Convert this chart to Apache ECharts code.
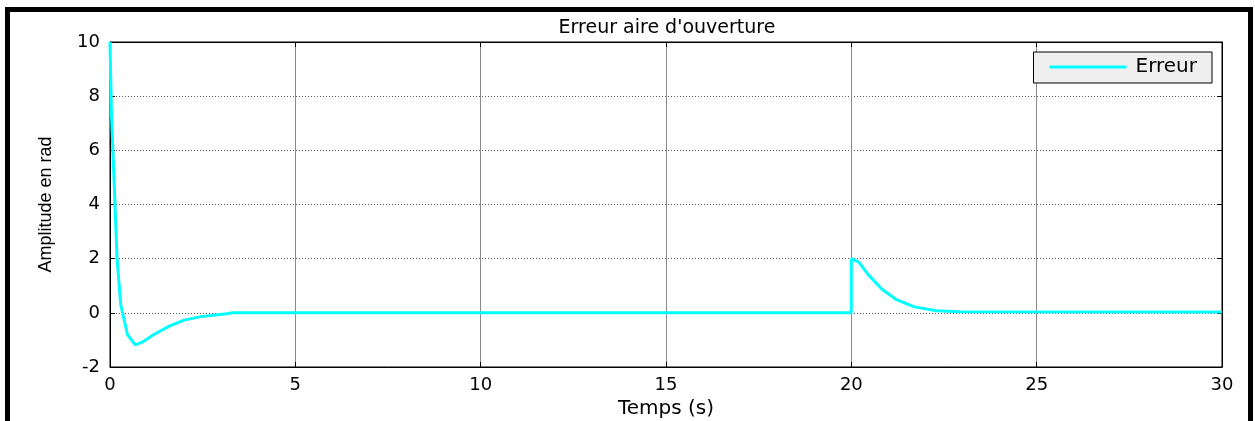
<!DOCTYPE html>
<html>
<head>
<meta charset="utf-8">
<script src="https://cdn.jsdelivr.net/npm/echarts@6/dist/echarts.min.js"></script>
<style>
html,body{margin:0;padding:0;background:#fff;}
#chart{width:1255px;height:421px;}
</style>
</head>
<body>
<div id="chart"></div>
<script>
// Data
const chartTitle = "Erreur aire d'ouverture";
const seriesName = "Erreur";
const xName = "Temps (s)";
const yName = "Amplitude en rad";
const timeS = [0, 0.04, 0.135, 0.19, 0.29, 0.47, 0.68, 0.9, 1.17, 1.6, 2.0, 2.45, 3.15, 3.3, 20, 20, 20.2, 20.45, 20.82, 21.2, 21.7, 22.3, 22.9, 30];
const erreur = [10, 7.3, 4.0, 2.0, 0.3, -0.8, -1.18, -1.06, -0.81, -0.49, -0.27, -0.14, -0.03, 0, 0, 2.0, 1.87, 1.42, 0.88, 0.5, 0.22, 0.08, 0.04, 0.03];
const xTicks = { min: 0, max: 30, interval: 5 };
const yTicks = { min: -2, max: 10, interval: 2 };

const chart = echarts.init(document.getElementById('chart'), null, { renderer: 'canvas' });
const fontMain = 'DejaVu Sans';
const points = timeS.map((t, i) => [t, erreur[i]]);

const tickStyle = { show: true, inside: true, length: 5, lineStyle: { color: '#000', width: 1 } };

chart.setOption({
  animation: false,
  backgroundColor: '#fff',
  title: {
    text: chartTitle,
    left: 667, textAlign: 'center',
    top: 19, padding: 0,
    textStyle: { fontFamily: fontMain, fontSize: 19, fontWeight: 'normal', color: '#000' }
  },
  legend: {
    data: [seriesName],
    right: 43, top: 52,
    backgroundColor: '#efefef',
    borderColor: '#000', borderWidth: 1, borderRadius: 0,
    padding: [5, 15, 6, 16],
    icon: 'rect', itemWidth: 77, itemHeight: 3,
    textStyle: { fontFamily: fontMain, fontSize: 20, color: '#000', padding: [0, 0, 0, 4] }
  },
  grid: { left: 110, right: 33, top: 42, bottom: 54, show: true, borderColor: '#000', borderWidth: 1, containLabel: false, outerBoundsMode: 'none' },
  xAxis: [{
    type: 'value', min: xTicks.min, max: xTicks.max, interval: xTicks.interval,
    name: xName, nameLocation: 'middle', nameGap: 32,
    nameTextStyle: { fontFamily: fontMain, fontSize: 20, color: '#000' },
    axisLine: { show: true, onZero: false, lineStyle: { color: '#000', width: 1 } },
    axisTick: tickStyle,
    axisLabel: { fontFamily: fontMain, fontSize: 18, color: '#000', margin: 9 },
    splitLine: { show: true, lineStyle: { color: '#8a8a8a', width: 1, type: 'solid' } }
  }, {
    type: 'value', position: 'top', min: xTicks.min, max: xTicks.max, interval: xTicks.interval,
    axisLine: { show: true, onZero: false, lineStyle: { color: '#000', width: 1 } },
    axisTick: tickStyle, axisLabel: { show: false }, splitLine: { show: false }
  }],
  yAxis: [{
    type: 'value', min: yTicks.min, max: yTicks.max, interval: yTicks.interval,
    name: yName, nameLocation: 'middle', nameGap: 55, nameRotate: 90,
    nameTextStyle: { fontFamily: 'Liberation Sans', fontSize: 18, color: '#000' },
    axisLine: { show: true, onZero: false, lineStyle: { color: '#000', width: 1 } },
    axisTick: tickStyle,
    axisLabel: { fontFamily: fontMain, fontSize: 18, color: '#000', margin: 10 },
    splitLine: { show: true, lineStyle: { color: '#555', width: 1, type: [1, 2] } }
  }, {
    type: 'value', position: 'right', min: yTicks.min, max: yTicks.max, interval: yTicks.interval,
    axisLine: { show: true, onZero: false, lineStyle: { color: '#000', width: 1 } },
    axisTick: tickStyle, axisLabel: { show: false }, splitLine: { show: false }
  }],
  series: [{
    name: seriesName, type: 'line', xAxisIndex: 0, yAxisIndex: 0,
    data: points, showSymbol: false, symbol: 'none', smooth: false,
    lineStyle: { color: '#00ffff', width: 3 },
    itemStyle: { color: '#00ffff' }
  }],
  graphic: [
    { type: 'rect', shape: { x: 5, y: 7, width: 5, height: 414 }, style: { fill: '#000' }, silent: true },
    { type: 'rect', shape: { x: 5, y: 7, width: 1248, height: 5 }, style: { fill: '#000' }, silent: true },
    { type: 'rect', shape: { x: 1248, y: 7, width: 5, height: 414 }, style: { fill: '#000' }, silent: true }
  ]
});
</script>
</body>
</html>
